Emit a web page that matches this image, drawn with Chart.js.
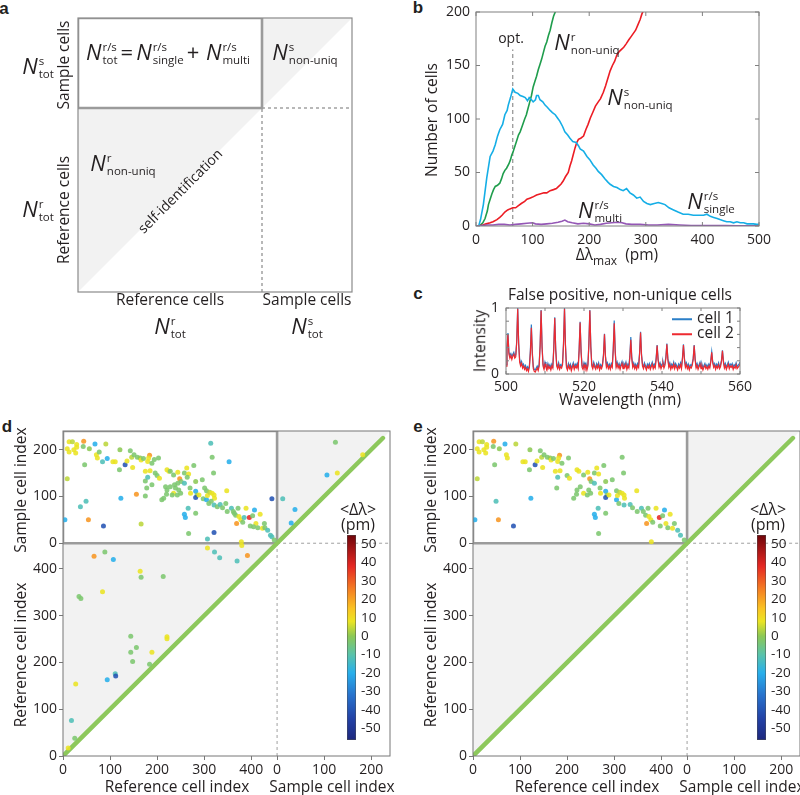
<!DOCTYPE html>
<html>
<head>
<meta charset="utf-8">
<script src="https://cdn.jsdelivr.net/npm/chart.js@4.4.1/dist/chart.umd.min.js"></script>
<style>
  body { margin:0; width:800px; height:795px; position:relative; overflow:hidden; background:#fff;
         font-family:"Open Sans", Lato, sans-serif; color:#231f20; }
  canvas { position:absolute; }
  .t { position:absolute; white-space:nowrap; line-height:1; transform:translate(-50%,-50%); font-size:15.5px; }
  .r { transform:translate(-50%,-50%) rotate(-90deg); }
  .pl { font:bold 17px "Liberation Sans", Arial, sans-serif; }
  .nn { display:inline-flex; align-items:center; }
  .nn i { font-size:22px; }
  .ss { display:inline-flex; flex-direction:column; font-size:11.5px; line-height:12.5px; margin-left:1px; margin-top:5px; }
  .op { font-size:22px; padding:0 3px; }
  .lg { display:inline-block; width:20px; height:2px; vertical-align:middle; margin-right:5px; }
</style>
</head>
<body>
<canvas id="chartA"></canvas>
<canvas id="chartB"></canvas>
<canvas id="chartC"></canvas>
<canvas id="chartD"></canvas>
<canvas id="chartE"></canvas>
<canvas id="barD"></canvas>
<canvas id="barE"></canvas>
<div id="labels"></div>

<script>
/* ================= DATA ================= */
// b: number of cells vs. max wavelength tolerance (pm)
const singleCurve = [[0,0],[5,0.5],[8,6],[13,20],[19,45],[25,65],[30,70],[34,76],[38,84],[42,90],[47,95],[51,104],[55,108],[57,113],[61,120],[65,128],[69,125],[74,124],[78,122],[83,121],[87,120],[91,117],[94,120],[98,118],[101,116],[105,118],[107,122],[110,122],[113,118],[118,116],[122,113],[126,111],[131,108],[135,106],[140,104],[144,101],[148,98],[153,93],[157,88],[162,85],[166,82],[171,79],[177,78],[181,75],[184,72],[190,70],[196,65],[201,62],[207,57],[212,54],[216,51],[222,48],[228,44],[233,41],[237,39],[243,37],[249,36],[255,34],[260,33],[266,35],[272,31],[278,29],[284,26],[290,27],[296,23],[302,21],[308,20],[315,21],[322,22],[328,21],[334,20],[341,17],[349,15],[357,13],[366,11],[375,11],[384,10],[393,10],[402,10],[408,11],[414,9],[420,8],[426,7],[431,6],[437,5],[443,4],[449,4],[455,3],[461,4],[467,3],[473,3],[479,2],[484,2],[490,2],[496,1.5],[500,1.5]];
const refNonUniq = [[0,0],[7,0.3],[12,3],[16,7],[20,14],[22,20],[25,25],[28,30],[31,34],[34,37],[38,38],[42,40],[45,44],[48,49],[51,52],[54,54],[58,58],[61,62],[63,66],[66,70],[69,75],[72,80],[75,85],[78,88],[82,94],[86,100],[89,104],[92,110],[95,116],[98,122],[101,130],[104,135],[107,140],[110,146],[113,151],[116,156],[119,162],[122,168],[125,172],[128,178],[131,183],[134,190],[137,196],[140,200],[145,212]];
const sampleNonUniq = [[0,0],[7,0.3],[12,1],[18,2],[25,3],[30,4],[37,6],[42,8],[46,10],[51,13],[56,15],[60,16],[65,17],[70,17],[75,19],[80,21],[86,23],[90,25],[95,26],[100,27],[107,29],[113,30],[120,31],[125,31],[131,33],[137,34],[142,35],[146,37],[150,39],[154,42],[158,46],[163,50],[166,56],[169,61],[172,67],[175,73],[178,78],[181,81],[185,82],[190,84],[194,90],[198,95],[202,101],[207,107],[211,112],[216,116],[220,119],[225,125],[229,131],[233,138],[237,145],[241,150],[245,154],[249,160],[253,163],[257,165],[261,167],[265,170],[270,174],[274,177],[278,180],[282,183],[286,188],[290,193],[293,198],[297,203]];
const multiCurve = [[0,0],[10,0.5],[20,1],[30,1],[40,1.5],[50,1.5],[60,1],[70,1.5],[80,2],[90,2.5],[100,3],[105,2],[115,1.5],[125,2],[135,2.5],[145,3.5],[152,4.5],[157,5.5],[162,4],[170,3],[180,2],[190,2.5],[200,2],[210,1],[220,1.5],[230,2.5],[240,3],[250,3.5],[258,3],[265,2],[275,1.5],[290,1.5],[305,1],[320,1],[340,1.5],[360,1],[380,0.5],[400,0.5],[420,0.5],[440,0.5],[460,0.3],[480,0.3],[500,0.3]];
const optimumPm = 65, optimumLineTop = 165;

// c: spectra, one value every 0.25 nm from 500 nm
const wlStart = 500, wlStep = 0.25;
const cell1 = [.14,.40,.62,.33,.28,.31,.26,.30,.33,.27, .29,.50,1.0,.47,.22,.15,.19,.12,.15,.10,
  .13,.08,.11,.07,.13,.36,.75,.33,.11,.07, .06,.09,.12,.08,.15,.44,.97,.42,.15,.10,
  .18,.13,.09,.16,.11,.14,.09,.15,.12,.40, .86,.38,.15,.11,.17,.10,.14,.12,.17,.47,
  1.0,.44,.13,.09,.16,.11,.15,.08,.13,.17, .10,.15,.12,.16,.11,.37,.79,.35,.13,.10,
  .17,.12,.16,.09,.15,.46,.97,.42,.15,.11, .18,.13,.10,.16,.12,.17,.09,.14,.11,.16,
  .30,.61,.28,.13,.17,.11,.15,.10,.16,.13, .39,.81,.36,.13,.18,.12,.16,.10,.15,.19,
  .11,.16,.13,.18,.10,.15,.12,.27,.56,.26, .13,.17,.11,.15,.10,.16,.13,.32,.64,.30,
  .15,.11,.17,.13,.09,.15,.12,.16,.10,.14, .18,.11,.15,.12,.24,.44,.23,.13,.17,.11,
  .15,.19,.12,.16,.26,.46,.24,.13,.17,.10, .15,.12,.18,.11,.16,.13,.09,.15,.12,.17,
  .11,.25,.45,.24,.13,.17,.11,.15,.09,.14, .12,.16,.24,.44,.23,.12,.16,.10,.14,.18,
  .11,.15,.09,.13,.16,.11,.14,.10,.15,.12, .20,.34,.19,.13,.16,.10,.15,.12,.17,.11,
  .14,.21,.36,.20,.12,.16,.10,.14,.18,.11, .15,.13,.16,.10,.14,.12,.17,.11,.13,.15, .18];
const cell2 = [.12,.38,.60,.30,.24,.28,.22,.27,.30,.24, .26,.48,.99,.45,.18,.12,.16,.09,.12,.07,
  .10,.05,.08,.04,.10,.32,.70,.30,.08,.04, .03,.06,.09,.05,.12,.42,.96,.40,.12,.07,
  .15,.10,.06,.13,.08,.11,.06,.12,.09,.38, .85,.36,.12,.08,.14,.07,.11,.09,.14,.45,
  .99,.42,.10,.06,.13,.08,.12,.05,.10,.14, .07,.12,.09,.13,.08,.35,.78,.33,.10,.07,
  .14,.09,.13,.06,.12,.44,.96,.40,.12,.08, .15,.10,.07,.13,.09,.14,.06,.11,.08,.13,
  .28,.60,.26,.10,.14,.08,.12,.07,.13,.10, .36,.77,.33,.10,.15,.09,.13,.07,.12,.16,
  .08,.13,.10,.15,.07,.12,.09,.24,.52,.23, .10,.14,.08,.12,.07,.13,.10,.30,.63,.28,
  .12,.08,.14,.10,.06,.12,.09,.13,.07,.11, .15,.08,.12,.09,.22,.43,.21,.10,.14,.08,
  .12,.16,.09,.13,.24,.45,.22,.10,.14,.07, .12,.09,.15,.08,.13,.10,.06,.12,.09,.14,
  .08,.23,.44,.22,.10,.14,.08,.12,.06,.11, .09,.13,.22,.43,.21,.09,.13,.07,.11,.15,
  .08,.12,.06,.10,.13,.08,.11,.07,.12,.09, .18,.33,.17,.10,.13,.07,.12,.09,.14,.08,
  .11,.19,.35,.18,.09,.13,.07,.11,.15,.08, .12,.10,.13,.07,.11,.09,.14,.08,.10,.12, .15];

// d/e: [index, index, <Δλ> (pm)]
const nRef = 455, nSampleAxis = 240, diagSampleEnd = 225;
const refTicks = [0,100,200,300,400], sampleTicks = [0,100,200];
const dSampleHits = [[13,217,8],[20,217,4],[29,211,8],[44,218,22],[68,212,-20],[91,212,4],[9,202,8],[23,200,8],[29,205,8],[13,195,8],
 [27,193,8],[43,207,-3],[56,202,0],[71,189,8],[73,182,8],[77,195,-3],[84,174,-12],[94,181,-20],[106,174,8],[111,174,8],
 [121,200,0],[143,198,-3],[132,168,-40],[136,176,8],[146,184,4],[151,189,-3],[158,184,-3],[164,182,0],[166,178,8],[171,181,-3],
 [180,175,8],[184,188,22],[182,182,8],[189,171,-3],[194,179,-3],[203,182,-3],[46,168,-3],[120,157,-3],[148,162,8],[9,138,4],
 [175,154,8],[185,155,8],[196,150,-3],[200,145,-3],[205,139,8],[175,133,-3],[180,141,-12],[189,125,-3],[178,118,-3],[221,157,8],
 [225,154,8],[228,154,-3],[235,146,-3],[244,152,8],[263,161,8],[258,150,-3],[278,166,-3],[267,148,8],[248,138,22],[251,132,-3],
 [258,128,-12],[244,128,-3],[237,125,-3],[239,118,-3],[246,114,-3],[228,121,-3],[218,121,-3],[221,114,-3],[235,107,8],[232,103,-3],
 [214,96,-3],[210,93,-3],[220,105,-3],[243,103,-3],[250,107,-3],[264,141,-3],[282,132,0],[271,107,8],[270,118,-3],[282,111,-20],
 [285,103,-3],[282,98,-40],[289,103,8],[296,136,-3],[301,118,-3],[305,112,-3],[298,95,-3],[305,93,-20],[307,102,8],[312,109,4],
 [317,107,8],[320,150,-3],[314,214,-12],[317,184,-3],[321,103,8],[322,96,8],[315,90,-3],[310,85,-3],[321,82,-12],[328,78,-3],
 [334,83,-12],[339,76,-3],[346,85,-3],[348,112,8],[349,68,-3],[353,174,-20],[358,75,-12],[362,68,-3],[364,64,-3],[367,60,-3],
 [372,75,-3],[374,57,8],[378,50,8],[369,42,22],[382,45,-3],[385,55,-12],[389,75,8],[396,55,38],[403,59,-3],[407,71,-20],
 [419,62,8],[410,42,8],[398,37,-3],[405,35,-3],[414,33,-3],[424,32,8],[429,33,-3],[428,42,-3],[435,28,-12],[441,17,-12],
 [444,14,-12],[449,7,-3],[444,95,-40],[123,96,-20],[156,105,22],[175,101,-3],[49,90,-12],[37,78,-12],[4,50,-20],[54,50,22],
 [86,37,-40],[166,41,4],[258,62,-20],[260,55,-20],[266,75,-12],[282,64,-3],[267,21,-3],[307,9,-12],[321,23,-40],[379,3,8]];
const dRefHits = [[66,427,22],[89,436,-3],[107,420,-20],[164,395,8],[166,382,-3],[213,384,-3],[84,351,8],[34,341,-3],[38,337,-3],[144,256,-3],
 [144,222,-3],[148,202,-3],[156,232,-3],[189,222,8],[221,255,8],[221,251,8],[184,196,-3],[111,176,-12],[112,171,-40],[94,163,-20],
 [27,154,8],[18,76,-12],[25,38,-3],[11,17,8],[307,445,8],[322,436,-12],[333,424,-12],[370,417,-12],[392,429,22],[380,450,8]];
const dSelfHits = [[124,216,-3],[106,146,-20],[128,150,8],[182,189,8],[38,72,-20],[30,43,-20],[12,95,-12]];
// hits of d that are gone in e
const eDropped = [15,16,17,34,42,45,47,51,61,62,63,66,69,71,75,84,86,92,96,99,102,105,108,115,123,126,130,132,134,135,137,141,147,148];
const cbMin = -56.5, cbMax = 55, cbTicks = [-50,-40,-30,-20,-10,0,10,20,30,40,50];

/* ================= STYLE ================= */
const cmapStops = [[-57,[30,40,125]],[-45,[35,65,165]],[-32,[40,115,205]],[-20,[40,175,235]],[-10,[90,195,170]],
  [0,[140,200,85]],[8,[235,228,35]],[15,[250,195,35]],[25,[245,130,35]],[38,[230,40,35]],[55,[110,5,10]]];
function cmap(v) {
  if (v <= cmapStops[0][0]) return cmapStops[0][1];
  for (let i = 1; i < cmapStops.length; i++) {
    const [v1, c1] = cmapStops[i], [v0, c0] = cmapStops[i-1];
    if (v <= v1) { const f = (v - v0) / (v1 - v0); return c0.map((c, k) => Math.round(c + f * (c1[k] - c))); }
  }
  return cmapStops[cmapStops.length-1][1];
}
const dotColor = v => `rgba(${cmap(v).join(',')},0.88)`;

Chart.defaults.font.family = "'Open Sans', Lato, sans-serif";
Chart.defaults.color = '#231f20';
Chart.defaults.animation = false;
Chart.defaults.events = [];
Chart.defaults.plugins.legend.display = false;
Chart.defaults.plugins.tooltip.enabled = false;

// frame round the plot area, with inner ticks if asked
Chart.register({
  id: 'frameTicks',
  afterDatasetsDraw(chart, args, o) {
    if (!o || !o.color) return;
    const {ctx, chartArea: a, scales} = chart;
    ctx.save();
    ctx.strokeStyle = o.color; ctx.lineWidth = o.width || 1;
    ctx.strokeRect(a.left, a.top, a.right - a.left, a.bottom - a.top);
    const len = o.tickLen || 0;
    if (len) {
      ctx.beginPath();
      scales.x.ticks.forEach(t => {
        const p = scales.x.getPixelForValue(t.value);
        ctx.moveTo(p, a.bottom); ctx.lineTo(p, a.bottom - len);
        ctx.moveTo(p, a.top); ctx.lineTo(p, a.top + len);
      });
      scales.y.ticks.forEach(t => {
        const p = scales.y.getPixelForValue(t.value);
        ctx.moveTo(a.left, p); ctx.lineTo(a.left + len, p);
        ctx.moveTo(a.right, p); ctx.lineTo(a.right - len, p);
      });
      ctx.stroke();
    }
    ctx.restore();
  }
});

function place(id, left, top, w, h) {
  const c = document.getElementById(id);
  c.width = w; c.height = h;
  c.style.left = left + 'px'; c.style.top = top + 'px';
  return c;
}
const xy = pairs => pairs.map(([x, y]) => ({x, y}));
function path(pairs, o) {
  return Object.assign({data: xy(pairs), showLine: true, pointRadius: 0, borderWidth: 1, fill: false, tension: 0}, o);
}
const fixY = w => s => { s.width = w; s.paddingTop = 0; s.paddingBottom = 0; };
const fixX = h => s => { s.height = h; s.paddingLeft = 0; s.paddingRight = 0; };
const noGrid = {display: false, drawTicks: false};
const base = {responsive: false, devicePixelRatio: 1, maintainAspectRatio: false};

/* ================= A: schematic ================= */
const aRef = 184, aSample = 90, aTot = aRef + aSample;
const shade = {fill: 'shape', backgroundColor: '#f2f2f2', borderColor: 'rgba(0,0,0,0)', borderWidth: 0.01, order: 9};
const dash = {borderColor: '#8a8a8a', borderWidth: 1.2, borderDash: [3, 3], order: 3};
new Chart(place('chartA', 75, 15, 280, 280), {
  type: 'line',
  data: {datasets: [
    path([[0,0],[0,aRef],[aRef,aRef]], shade),
    path([[aRef,aRef],[aRef,aTot],[aTot,aTot]], shade),
    path([[aRef,aRef],[aTot,aRef]], dash),
    path([[aRef,0],[aRef,aRef]], dash),
    path([[0,aRef],[aRef,aRef],[aRef,aTot],[0,aTot],[0,aRef]], {borderColor: '#9b9b9b', borderWidth: 2.6, order: 2})
  ]},
  options: Object.assign({}, base, {
    layout: {padding: 3},
    scales: {x: {type: 'linear', min: 0, max: aTot, display: false}, y: {min: 0, max: aTot, display: false}},
    plugins: {frameTicks: {color: '#8a8a8a', width: 1.2}}
  })
});

/* ================= B ================= */
new Chart(place('chartB', 436, 4, 343, 244), {
  type: 'line',
  data: {datasets: [
    path(multiCurve, {borderColor: '#9457b5', borderWidth: 1.6, order: 1}),
    path(singleCurve, {borderColor: '#15aee6', borderWidth: 1.6, order: 2}),
    path(sampleNonUniq, {borderColor: '#ec1c24', borderWidth: 1.6, order: 3}),
    path(refNonUniq, {borderColor: '#1f9d4c', borderWidth: 1.6, order: 4}),
    path([[optimumPm, 0], [optimumPm, optimumLineTop]], {borderColor: '#7a7a7a', borderDash: [4, 3], order: 5})
  ]},
  options: Object.assign({}, base, {
    layout: {padding: {top: 8, right: 20, left: 0, bottom: 0}},
    scales: {
      x: {type: 'linear', min: 0, max: 500, ticks: {stepSize: 100, padding: 6, font: {size: 14}},
          grid: noGrid, border: {display: false}, afterFit: fixX(22)},
      y: {min: 0, max: 200, ticks: {stepSize: 50, padding: 6, font: {size: 14}},
          grid: noGrid, border: {display: false}, afterFit: fixY(40)}
    },
    plugins: {frameTicks: {color: '#808080', tickLen: 4}}
  })
});

/* ================= C ================= */
const spec = arr => arr.map((v, i) => [wlStart + i * wlStep, v]);
new Chart(place('chartC', 484, 300, 276, 96), {
  type: 'line',
  data: {datasets: [
    path(spec(cell2), {borderColor: '#ee2a30', borderWidth: 1.2, order: 1}),
    path(spec(cell1), {borderColor: '#2b7fc8', borderWidth: 1.2, order: 2})
  ]},
  options: Object.assign({}, base, {
    layout: {padding: {top: 8, right: 20, left: 0, bottom: 0}},
    scales: {
      x: {type: 'linear', min: 500, max: 560,
          ticks: {stepSize: 10, padding: 5, font: {size: 14}, autoSkip: false, maxRotation: 0,
                  callback: v => (v % 20 === 0 ? v : '')},
          grid: noGrid, border: {display: false}, afterFit: fixX(22)},
      y: {min: 0, max: 1,
          ticks: {stepSize: 0.2, padding: 7, font: {size: 14}, autoSkip: false,
                  callback: v => (Math.abs(v) < 1e-6 ? '0' : Math.abs(v - 1) < 1e-6 ? '1' : '')},
          grid: noGrid, border: {display: false}, afterFit: fixY(22)}
    },
    plugins: {frameTicks: {color: '#808080', tickLen: 3}}
  })
});

/* ================= D / E ================= */
const axisTop = nRef + nSampleAxis;
const matrixTicks = refTicks.concat(sampleTicks.map(v => v + nRef));
function dots(hits, fx, fy) {
  return {data: hits.map(h => ({x: fx(h[0]), y: fy(h[1])})), showLine: false, pointRadius: 2.5,
          pointBorderWidth: 0, pointBackgroundColor: hits.map(h => dotColor(h[2])), order: 0};
}
function matrixChart(id, left, sampleHits, refHits, selfHits) {
  const tickOpts = {
    afterBuildTicks: s => { s.ticks = matrixTicks.map(v => ({value: v})); },
    ticks: {autoSkip: false, maxRotation: 0, padding: 2, font: {size: 14},
            callback: v => (v >= nRef ? v - nRef : v)},
    grid: {drawOnChartArea: false, drawTicks: true, tickLength: 4, color: '#777'},
    border: {display: false}
  };
  const mdash = {borderColor: '#a0a0a0', borderWidth: 1, borderDash: [3, 3], order: 3};
  new Chart(place(id, left - 40, 425, 373, 353), {
    type: 'line',
    data: {datasets: [
      dots(sampleHits, r => r, s => nRef + s),
      dots(refHits, r => r, r => r),
      dots(selfHits, s => nRef + s, s => nRef + s),
      path([[0, 0], [nRef + diagSampleEnd, nRef + diagSampleEnd]],
           {borderColor: '#8dc85c', borderWidth: 4.5, borderCapStyle: 'round', order: 1}),
      path([[0,nRef],[nRef,nRef],[nRef,axisTop],[0,axisTop],[0,nRef]], {borderColor: '#9b9b9b', borderWidth: 2.6, order: 2}),
      path([[nRef, nRef], [axisTop, nRef]], mdash),
      path([[nRef, 0], [nRef, nRef]], mdash),
      path([[0,0],[0,nRef],[nRef,nRef]], shade),
      path([[nRef,nRef],[nRef,axisTop],[axisTop,axisTop]], shade)
    ]},
    options: Object.assign({}, base, {
      layout: {padding: {top: 6, right: 6, left: 0, bottom: 0}},
      scales: {
        x: Object.assign({type: 'linear', min: 0, max: axisTop, afterFit: fixX(22)}, tickOpts),
        y: Object.assign({type: 'linear', min: 0, max: axisTop, afterFit: fixY(40)}, tickOpts)
      },
      plugins: {frameTicks: {color: '#777', width: 1}}
    })
  });
}
function barGradient(chart) {
  const a = chart.chartArea;
  if (!a) return '#888';
  const g = chart.ctx.createLinearGradient(0, a.bottom, 0, a.top);
  cmapStops.forEach(([v, c]) =>
    g.addColorStop(Math.min(1, Math.max(0, (v - cbMin) / (cbMax - cbMin))), `rgb(${c.join(',')})`));
  return g;
}
function colorBar(id, left) {
  new Chart(place(id, left - 3, 529, 40, 217), {
    type: 'bar',
    data: {labels: [''], datasets: [{data: [[cbMin, cbMax]], backgroundColor: c => barGradient(c.chart),
      borderColor: '#4d4d4d', borderWidth: 0.8, borderSkipped: false, barPercentage: 1, categoryPercentage: 1}]},
    options: Object.assign({}, base, {
      layout: {padding: {left: 3, top: 6, bottom: 6, right: 0}},
      scales: {
        x: {display: false},
        y: {position: 'right', min: cbMin, max: cbMax,
            afterBuildTicks: s => { s.ticks = cbTicks.map(v => ({value: v})); },
            ticks: {padding: 5, font: {size: 13.5}, autoSkip: false},
            grid: noGrid, border: {display: false}, afterFit: fixY(28)}
      }
    })
  });
}
matrixChart('chartD', 63, dSampleHits, dRefHits, dSelfHits);
matrixChart('chartE', 473, dSampleHits.filter((h, i) => !eDropped.includes(i)), [], []);
colorBar('barD', 347);
colorBar('barE', 757);

/* ================= TEXT ================= */
const N = (sup, sub) => `<span class="nn"><i>N</i><span class="ss"><span>${sup}</span><span>${sub}</span></span></span>`;
const op = s => `<span class="op">${s}</span>`;
const texts = [
  [4, 9, 'a', 'pl'], [418, 8, 'b', 'pl'], [418, 294, 'c', 'pl'], [7, 427, 'd', 'pl'], [418, 427, 'e', 'pl'],
  // a
  [168, 51, `${N('r/s','tot')}${op('=')}${N('r/s','single')}${op('+&thinsp;')}${N('r/s','multi')}`],
  [305, 51, N('s', 'non-uniq')], [123, 162, N('r', 'non-uniq')],
  [180, 191, 'self-identification', '', 'transform:translate(-50%,-50%) rotate(-45deg);font-size:14px'],
  [38, 65, N('s', 'tot')], [64, 65, 'Sample cells', 'r'], [64, 210, 'Reference cells', 'r'], [38, 208, N('r', 'tot')],
  [170, 300, 'Reference cells'], [307, 300, 'Sample cells'], [170, 325, N('r', 'tot')], [307, 325, N('s', 'tot')],
  // b
  [432, 120, 'Number of cells', 'r'], [617, 257, 'Δλ<sub style="font-size:12px">max</sub>&nbsp; (pm)'],
  [511, 38, 'opt.', '', 'font-size:14px'],
  [587, 41, N('r', 'non-uniq')], [640, 96, N('s', 'non-uniq')], [600, 209, N('r/s', 'multi')], [711, 200, N('r/s', 'single')],
  // c
  [620, 295, 'False positive, non-unique cells'], [480, 341, 'Intensity', 'r'], [620, 400, 'Wavelength (nm)'],
  [697, 318, '<span class="lg" style="background:#2b7fc8"></span>cell 1', '', 'transform:translate(-25px,-50%)'],
  [697, 333, '<span class="lg" style="background:#ee2a30"></span>cell 2', '', 'transform:translate(-25px,-50%)'],
  // d
  [21, 490, 'Sample cell index', 'r'], [21, 655, 'Reference cell index', 'r'],
  [177, 787, 'Reference cell index'], [332, 787, 'Sample cell index'],
  [358, 509, '&lt;Δλ&gt;', '', 'font-size:16px'], [358, 524, '(pm)', '', 'font-size:16px'],
  // e
  [431, 490, 'Sample cell index', 'r'], [431, 655, 'Reference cell index', 'r'],
  [587, 787, 'Reference cell index'], [742, 787, 'Sample cell index'],
  [768, 509, '&lt;Δλ&gt;', '', 'font-size:16px'], [768, 524, '(pm)', '', 'font-size:16px']
];
document.getElementById('labels').innerHTML = texts.map(([x, y, h, cls, st]) =>
  `<div class="t ${cls || ''}" style="left:${x}px;top:${y}px;${st || ''}">${h}</div>`).join('');
</script>
</body>
</html>
